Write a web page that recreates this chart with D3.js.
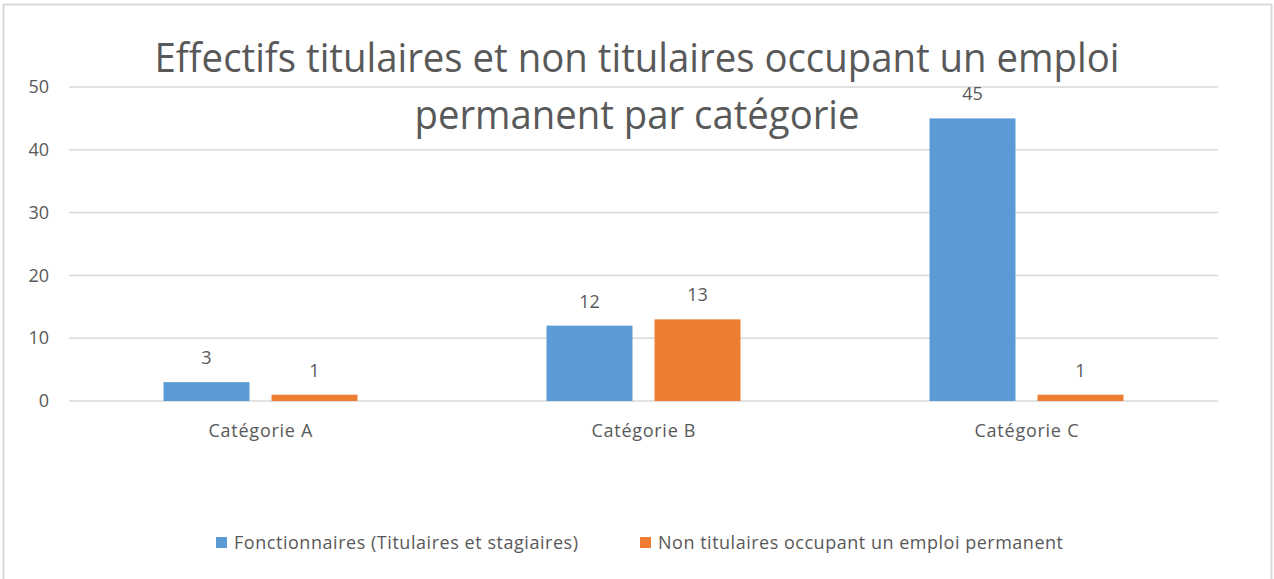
<!DOCTYPE html>
<html>
<head>
<meta charset="utf-8">
<script src="https://cdn.jsdelivr.net/npm/d3@7"></script>
<style>
  body { margin: 0; background: #fff; }
  text { font-family: "Open Sans", "Liberation Sans", sans-serif; fill: #595959; }
</style>
</head>
<body>
<div class="chart"></div>
<script>
var svgWidth = 1274;
var svgHeight = 579;

var categories = ["Catégorie A", "Catégorie B", "Catégorie C"];
var seriesNames = ["Fonctionnaires (Titulaires et stagiaires)", "Non titulaires occupant un emploi permanent"];
var fonctionnaires = [3, 12, 45];
var nonTitulaires = [1, 13, 1];
var yTicks = [0, 10, 20, 30, 40, 50];
var colors = ["#5b9bd5", "#ed7d31"];

var margin = { top: 87, right: 56, bottom: 178, left: 69 };
var width = svgWidth - margin.left - margin.right;
var height = svgHeight - margin.top - margin.bottom;

var svg = d3.select(".chart")
  .append("svg")
  .attr("width", svgWidth)
  .attr("height", svgHeight);

// outer frame
svg.append("rect")
  .attr("x", 3.5).attr("y", 4.5)
  .attr("width", 1268).attr("height", 580)
  .attr("fill", "none")
  .attr("stroke", "#d9d9d9")
  .attr("stroke-width", 2);

var chartGroup = svg.append("g")
  .attr("transform", `translate(${margin.left}, ${margin.top})`);

var x0 = d3.scaleBand().domain(categories).range([0, width]);
var x1 = d3.scaleBand().domain([0, 1]).range([0, 194]).paddingInner(0.204);
var y = d3.scaleLinear().domain([0, 50]).range([height, 0]);

// gridlines
chartGroup.selectAll(".grid")
  .data(yTicks)
  .enter()
  .append("line")
  .attr("x1", 0).attr("x2", width)
  .attr("y1", d => y(d)).attr("y2", d => y(d))
  .attr("stroke", "#d9d9d9")
  .attr("stroke-width", 1.5);

// y axis labels
var leftAxis = d3.axisLeft(y).tickValues(yTicks).tickSize(0).tickPadding(20);
var yAxis = chartGroup.append("g").call(leftAxis);
yAxis.select(".domain").remove();
yAxis.selectAll("text").attr("font-size", 18).style("fill", "#595959")
  .attr("font-family", "'Open Sans', sans-serif");

// x axis labels
var bottomAxis = d3.axisBottom(x0).tickSize(0).tickPadding(23);
var xAxis = chartGroup.append("g")
  .attr("transform", `translate(0, ${height})`)
  .call(bottomAxis);
xAxis.select(".domain").remove();
xAxis.selectAll("text").attr("font-size", 18).style("fill", "#595959")
  .attr("font-family", "'Open Sans', sans-serif")
  .attr("textLength", 104)
  .attr("lengthAdjust", "spacing");

// bars
var rows = categories.map((c, i) => ({ cat: c, vals: [fonctionnaires[i], nonTitulaires[i]] }));
var groups = chartGroup.selectAll(".cat")
  .data(rows)
  .enter()
  .append("g")
  .attr("transform", d => `translate(${x0(d.cat) + x0.bandwidth() / 2 - 97}, 0)`);

groups.selectAll("rect")
  .data(d => d.vals)
  .enter()
  .append("rect")
  .attr("x", (d, i) => x1(i))
  .attr("y", d => y(d))
  .attr("width", x1.bandwidth())
  .attr("height", d => y(0) - y(d))
  .attr("fill", (d, i) => colors[i]);

groups.selectAll(".lbl")
  .data(d => d.vals)
  .enter()
  .append("text")
  .attr("x", (d, i) => x1(i) + x1.bandwidth() / 2)
  .attr("y", d => y(d) - 18)
  .attr("text-anchor", "middle")
  .attr("font-size", 18)
  .text(d => d);

// title
var title = svg.append("g");
title.append("text")
  .attr("x", 637).attr("y", 72)
  .attr("text-anchor", "middle")
  .attr("font-size", 40)
  .attr("textLength", 965)
  .attr("lengthAdjust", "spacingAndGlyphs")
  .text("Effectifs titulaires et non titulaires occupant un emploi");
title.append("text")
  .attr("x", 637).attr("y", 129)
  .attr("text-anchor", "middle")
  .attr("font-size", 40)
  .attr("textLength", 445)
  .attr("lengthAdjust", "spacingAndGlyphs")
  .text("permanent par catégorie");

// legend
var legendX = [216, 640];
var legendLen = [344, 405];
var legend = svg.selectAll(".legend")
  .data(seriesNames)
  .enter()
  .append("g")
  .attr("transform", (d, i) => `translate(${legendX[i]}, 537)`);
legend.append("rect")
  .attr("width", 11).attr("height", 11)
  .attr("fill", (d, i) => colors[i]);
legend.append("text")
  .attr("x", 18).attr("y", 12)
  .attr("font-size", 18)
  .attr("textLength", (d, i) => legendLen[i])
  .attr("lengthAdjust", "spacing")
  .text(d => d);
</script>
</body>
</html>
